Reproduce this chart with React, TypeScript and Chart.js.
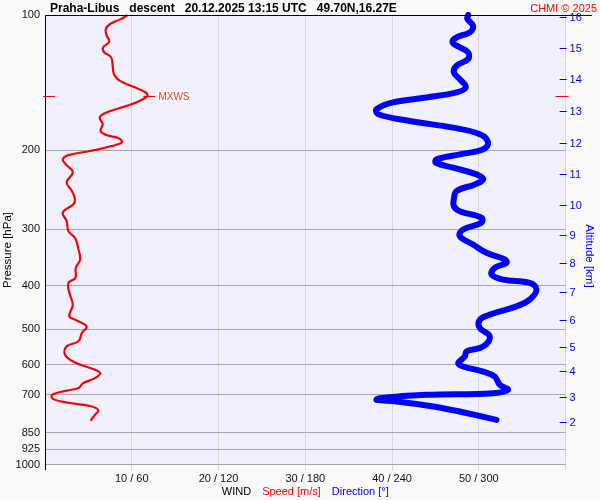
import React, { useEffect, useRef } from "react";
import { Chart, registerables } from "chart.js";

Chart.register(...registerables);

const FONT = "'Liberation Sans', Arial, Helvetica, sans-serif";

const TITLE = "Praha-Libus   descent   20.12.2025 13:15 UTC   49.70N,16.27E";
const COPYRIGHT = "CHMI © 2025";
const PRESSURE_TITLE = "Pressure [hPa]";
const ALTITUDE_TITLE = "Altitude [km]";
const WIND_LABELS = ["WIND", "Speed [m/s]", "Direction [°]"];
const MAX_LABEL = "MXWS";

const pressureTicks = [100, 200, 300, 400, 500, 600, 700, 850, 925, 1000];
const speedTicks = [10, 20, 30, 40, 50];
const directionTicks = [60, 120, 180, 240, 300];

const altitudeKm = [2, 3, 4, 5, 6, 7, 8, 9, 10, 11, 12, 13, 14, 15, 16];
const altitudePressure = [804, 706, 621, 548, 476, 413, 357, 309, 264, 225.4, 192.2, 163.7, 139.1, 118.6, 101.2];

const speedPressure = [
  100, 102, 104.7, 107.5, 111, 114.7, 118, 121, 124, 129.7, 135.4, 140, 144.5, 148.7, 151.3,
  155.3, 159.3, 164.8, 169, 175, 181, 185, 188.3, 192.2, 195.6, 200.7, 205, 209.5, 215, 223.6,
  236, 246.5, 257, 264, 275, 287.5, 302.7, 313, 332, 350, 365, 384.5, 394.4, 415, 441, 468,
  478, 493, 510, 532, 546, 570, 593, 610, 626, 642.5, 659, 676, 685, 700, 715.5, 728, 743,
  758.6, 775.5, 798.6,
];
const speedValues = [
  9.5, 8.8, 7.5, 7.0, 7.1, 7.4, 6.7, 6.8, 7.6, 7.8, 7.95, 8.6, 10.2, 11.6, 11.8,
  10.9, 9.4, 7.1, 6.3, 6.65, 6.4, 7.1, 8.55, 8.85, 7.7, 5.2, 2.7, 2.05, 2.4, 3.2,
  2.5, 3.1, 3.45, 3.25, 2.05, 2.5, 2.7, 3.45, 3.85, 4.05, 3.55, 3.5, 2.7, 2.8, 3.2, 2.8,
  3.65, 4.8, 4.25, 3.85, 2.5, 2.3, 3.45, 5.2, 6.35, 5.75, 4.4, 3.85, 2.5, 0.8, 0.95, 2.5, 5.4,
  6.15, 5.75, 5.25,
];

const directionPressure = [
  100, 102, 105.6, 109.3, 112.1, 115.1, 118, 121.1, 125.3, 129.7, 134.2, 138.9, 144.9, 148.7,
  152.6, 156.5, 162, 166.3, 172.1, 178.1, 184.2, 192.2, 199, 204.2, 209.5, 213.1, 218.6, 226.2,
  232.1, 238.2, 246.5, 257.2, 266.2, 273.2, 282.5, 289.9, 300, 310.5, 324, 338.1, 349.9, 355.9,
  365.2, 378, 387.8, 394.4, 408.2, 429.8, 444.9, 464.2, 476.3, 497, 518.9, 546.3, 560.5, 575.1,
  594.9, 605.4, 621.2, 637.3, 665, 682.3, 693.9, 699.9, 711.9, 718.2, 724.5, 749.4, 795.7,
];
const directionValues = [
  292.6, 292, 296, 293.8, 284.6, 281.8, 286.8, 292.6, 292.6, 284.6, 282.7, 286.8, 291, 284.6,
  263.8, 240.7, 229.3, 230.4, 252.3, 282.2, 300.7, 306.4, 303, 286.8, 270.7, 270.3, 282.2, 298.4,
  303, 297.2, 284.6, 282.7, 282.7, 286.8, 301.8, 301.8, 289.1, 286.8, 296, 305.3, 318, 319.1,
  311, 308.8, 316.8, 335.2, 339.9, 335.2, 326, 307.6, 300.7, 300.7, 307.6, 303, 291.5, 290.3,
  285.7, 289.1, 303, 311, 314.5, 320.2, 309.9, 263.8, 231.6, 229.3, 243.1, 275.3, 312.2,
];

const decorPlugin = {
  id: "decor",
  beforeDraw(chart: any) {
    const { ctx, chartArea: a, width, height } = chart;
    ctx.save();
    ctx.fillStyle = "#f9f9f9";
    ctx.fillRect(0, 0, width, height);
    ctx.fillStyle = "#f0f0fe";
    ctx.fillRect(a.left, a.top, a.right - a.left, a.bottom - a.top);
    ctx.restore();
  },
  afterDraw(chart: any) {
    const { ctx, chartArea: a, scales } = chart;
    const ys = scales.y;
    const xs = scales.x;
    ctx.save();

    // borders
    ctx.strokeStyle = "#000";
    ctx.lineWidth = 1;
    ctx.beginPath();
    ctx.moveTo(a.left + 0.5, 470);
    ctx.lineTo(a.left + 0.5, a.top + 0.5);
    ctx.lineTo(592, a.top + 0.5);
    ctx.stroke();

    // altitude ticks
    ctx.strokeStyle = "#0000ff";
    ctx.fillStyle = "#0000ff";
    ctx.font = `11px ${FONT}`;
    ctx.textAlign = "left";
    ctx.textBaseline = "middle";
    altitudeKm.forEach((km, i) => {
      const y = Math.round(ys.getPixelForValue(altitudePressure[i])) + 0.5;
      ctx.beginPath();
      ctx.moveTo(a.right - 6, y);
      ctx.lineTo(a.right + 1, y);
      ctx.stroke();
      ctx.fillText(String(km), a.right + 4, y + 0.5);
    });

    // max wind speed markers
    let mi = 0;
    speedValues.forEach((v, i) => {
      if (v > speedValues[mi]) mi = i;
    });
    const mx = xs.getPixelForValue(speedValues[mi]);
    const my = Math.round(ys.getPixelForValue(speedPressure[mi])) + 0.5;
    ctx.strokeStyle = "#ff0000";
    ctx.lineWidth = 1;
    ctx.beginPath();
    ctx.moveTo(a.left - 2, my);
    ctx.lineTo(a.left + 10, my);
    ctx.moveTo(a.right - 10, my);
    ctx.lineTo(a.right + 3, my);
    ctx.moveTo(mx - 4, my);
    ctx.lineTo(mx + 8, my);
    ctx.stroke();
    ctx.font = `10px ${FONT}`;
    const tw = ctx.measureText(MAX_LABEL).width;
    ctx.fillStyle = "#ffffff";
    ctx.fillRect(mx + 10, my - 5.5, tw + 3, 11);
    ctx.fillStyle = "#ff3030";
    ctx.textAlign = "left";
    ctx.textBaseline = "middle";
    ctx.fillText(MAX_LABEL, mx + 11, my + 0.5);

    // title
    ctx.fillStyle = "#000";
    ctx.font = `bold 12px ${FONT}`;
    ctx.textAlign = "left";
    ctx.textBaseline = "alphabetic";
    ctx.fillText(TITLE, 50, 12);
    ctx.fillStyle = "#ff0000";
    ctx.font = `11px ${FONT}`;
    ctx.textAlign = "right";
    ctx.fillText(COPYRIGHT, 597, 12);

    // axis titles
    ctx.font = `11.5px ${FONT}`;
    ctx.textAlign = "center";
    ctx.textBaseline = "middle";
    ctx.save();
    ctx.translate(7.5, 250);
    ctx.rotate(-Math.PI / 2);
    ctx.fillStyle = "#000";
    ctx.fillText(PRESSURE_TITLE, 0, 0);
    ctx.restore();
    ctx.save();
    ctx.translate(589, 256);
    ctx.rotate(Math.PI / 2);
    ctx.fillStyle = "#0000ff";
    ctx.fillText(ALTITUDE_TITLE, 0, 0);
    ctx.restore();

    // wind label row
    ctx.font = `11px ${FONT}`;
    ctx.textAlign = "left";
    const colors = ["#000", "#ff0000", "#0000ff"];
    const gap = 11;
    const widths = WIND_LABELS.map((t) => ctx.measureText(t).width);
    const total = widths.reduce((s, w) => s + w, 0) + gap * (WIND_LABELS.length - 1);
    let x = (a.left + a.right) / 2 - total / 2;
    WIND_LABELS.forEach((t, i) => {
      ctx.fillStyle = colors[i];
      ctx.fillText(t, x, 491.5);
      x += widths[i] + gap;
    });

    ctx.restore();
  },
};

export default function App() {
  const ref = useRef<HTMLCanvasElement>(null);
  useEffect(() => {
    const canvas = ref.current;
    if (!canvas) return;
    Chart.defaults.font.family = FONT;
    Chart.defaults.font.size = 11;
    const chart = new Chart(canvas, {
      type: "scatter",
      data: {
        datasets: [
          {
            label: "Direction",
            data: directionPressure.map((p, i) => ({ x: directionValues[i], y: p })),
            xAxisID: "xDir",
            yAxisID: "y",
            showLine: true,
            borderColor: "#0000ff",
            backgroundColor: "#0000ff",
            borderWidth: 6,
            pointRadius: 0,
            tension: 0.4,
            borderCapStyle: "round",
            borderJoinStyle: "round",
            clip: false,
          } as any,
          {
            label: "Speed",
            data: speedPressure.map((p, i) => ({ x: speedValues[i], y: p })),
            xAxisID: "x",
            yAxisID: "y",
            showLine: true,
            borderColor: "#ff0000",
            backgroundColor: "#ff0000",
            borderWidth: 2.2,
            pointRadius: 0,
            tension: 0.4,
            borderJoinStyle: "round",
            clip: false,
          } as any,
        ],
      },
      options: {
        responsive: false,
        animation: false,
        events: [],
        layout: { padding: { top: 15, right: 34.4, left: 0, bottom: 0 } },
        plugins: { legend: { display: false }, tooltip: { enabled: false }, title: { display: false } },
        scales: {
          x: {
            type: "linear",
            position: "bottom",
            min: 0,
            max: 60,
            afterBuildTicks: (axis: any) => {
              axis.ticks = [0, ...speedTicks, 60].map((v) => ({ value: v }));
            },
            afterFit: (axis: any) => {
              axis.height = 35.5;
            },
            ticks: {
              autoSkip: false,
              maxRotation: 0,
              color: "#111",
              font: { size: 11 },
              padding: 2,
              callback: (v: any) => {
                const i = speedTicks.indexOf(Number(v));
                return i >= 0 ? `${speedTicks[i]} / ${directionTicks[i]}` : "";
              },
            },
            grid: { color: "#d8d8d8", lineWidth: 1, drawTicks: true, tickLength: 6 },
            border: { display: false },
          },
          xDir: {
            type: "linear",
            position: "bottom",
            min: 0,
            max: 360,
            display: false,
          },
          y: {
            type: "logarithmic",
            position: "left",
            reverse: true,
            min: 100,
            max: 1000,
            afterBuildTicks: (axis: any) => {
              axis.ticks = pressureTicks.map((v) => ({ value: v }));
            },
            afterFit: (axis: any) => {
              axis.width = 45;
            },
            ticks: {
              autoSkip: false,
              color: "#111",
              font: { size: 11 },
              padding: 5,
              callback: (v: any) => String(v),
            },
            grid: { color: "#a8a8a8", lineWidth: 1, drawTicks: false },
            border: { display: false },
          },
        },
      },
      plugins: [decorPlugin],
    } as any);
    return () => chart.destroy();
  }, []);
  return (
    <div style={{ position: "fixed", left: 0, top: 0, width: 600, height: 500 }}>
      <canvas ref={ref} width={600} height={500} style={{ display: "block" }} />
    </div>
  );
}
